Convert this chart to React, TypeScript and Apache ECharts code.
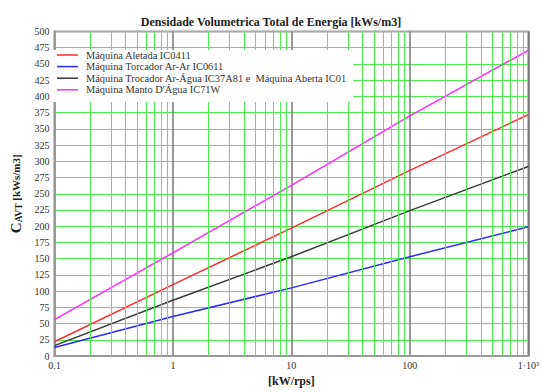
import React, { useEffect, useRef } from "react";
import * as echarts from "echarts";

const xValues = [0.1, 1, 10, 100, 1000];
const xTickLabels = ["0.1", "1", "10", "100", "1·10³"];
const minorX = [
  0.2, 0.3, 0.4, 0.5, 0.6, 0.7, 0.8, 0.9,
  2, 3, 4, 5, 6, 7, 8, 9,
  20, 30, 40, 50, 60, 70, 80, 90,
  200, 300, 400, 500, 600, 700, 800, 900,
];
const seriesNames = [
  "Máquina Aletada IC0411",
  "Máquina Torcador Ar-Ar IC0611",
  "Máquina Trocador Ar-Água IC37A81 e  Máquina Aberta IC01",
  "Máquina Manto D'Água IC71W",
];
const aletada = [22, 110, 197, 286, 372];
const arAr = [13, 61, 105, 153, 199];
const arAgua = [16, 86, 153, 224, 292];
const manto = [56, 159, 263, 370, 471];
const colors = ["#ff2a2a", "#2a2aff", "#3a3a3a", "#ff2aff"];

const serif = "'Liberation Serif', 'DejaVu Serif', serif";
const GREEN = "#4ded4d";

export default function App() {
  const ref = useRef<HTMLDivElement>(null);
  useEffect(() => {
    if (!ref.current) return;
    const chart = echarts.init(ref.current, undefined, { renderer: "svg" });
    const values = [aletada, arAr, arAgua, manto];
    chart.setOption({
      animation: false,
      backgroundColor: "#ffffff",
      title: {
        text: "Densidade Volumetrica Total de Energia [kWs/m3]",
        left: "center",
        top: 11,
        textStyle: { fontFamily: serif, fontWeight: "bold", fontSize: 12, color: "#222" },
      },
      graphic: [
        {
          type: "rect",
          shape: { x: 53, y: 50, width: 300, height: 52 },
          style: { fill: "#ffffff" },
          z: 50,
          silent: true,
        },
      ],
      legend: {
        data: seriesNames,
        orient: "vertical",
        left: 53,
        top: 50,
        z: 60,
        padding: [0, 8, 4, 4],
        itemWidth: 21,
        itemHeight: 12,
        itemGap: 1.6,
        icon: "path://M0,0L21,0L21,1.5L0,1.5Z",
        textStyle: { fontFamily: serif, fontSize: 10.4, color: "#333", padding: [0, 0, 0, 3] },
      },
      grid: {
        left: 48,
        top: 31.5,
        width: 493,
        height: 332,
        show: true,
        borderColor: "#999",
        borderWidth: 2,
        containLabel: false,
      },
      xAxis: {
        type: "log",
        logBase: 10,
        min: 0.1,
        max: 1000,
        name: "[kW/rps]",
        nameLocation: "middle",
        nameGap: 19,
        nameTextStyle: { fontFamily: serif, fontWeight: "bold", fontSize: 12, color: "#222" },
        axisLine: { show: true, lineStyle: { color: "#999", width: 2 } },
        axisTick: { show: false },
        axisLabel: {
          fontFamily: serif,
          fontSize: 10,
          color: "#333",
          margin: 4,
          showMinLabel: true,
          showMaxLabel: true,
          alignMaxLabel: "center",
          formatter: (_v: number, i: number) => xTickLabels[i] ?? "",
        },
        splitLine: { show: true, lineStyle: { color: "#777", width: 1.5 } },
      },
      yAxis: {
        type: "value",
        min: 0,
        max: 500,
        interval: 25,
        name: "{c|C}{s|AVT}{n| [kWs/m3]}",
        nameLocation: "middle",
        nameRotate: 90,
        nameGap: 26,
        nameTextStyle: {
          rich: {
            c: { fontFamily: serif, fontSize: 15, fontWeight: "bold", color: "#222" },
            s: { fontFamily: serif, fontSize: 9.5, fontWeight: "bold", color: "#222", padding: [6, 0, 0, 0] },
            n: { fontFamily: serif, fontSize: 11, fontWeight: "bold", color: "#222" },
          },
        },
        axisLine: { show: true, lineStyle: { color: "#999", width: 2 } },
        axisTick: { show: false },
        axisLabel: { fontFamily: serif, fontSize: 10, color: "#333", margin: 5 },
        splitLine: { show: true, lineStyle: { color: GREEN, width: 1 } },
      },
      series: [
        {
          name: "minor-grid",
          type: "line",
          data: [],
          silent: true,
          markLine: {
            silent: true,
            symbol: "none",
            label: { show: false },
            lineStyle: { color: GREEN, width: 1, type: "solid" },
            data: minorX.map((v) => ({ xAxis: v })),
          },
          z: 1,
        },
        ...seriesNames.map((name, k) => ({
          name,
          type: "line",
          symbol: "none",
          showSymbol: false,
          data: xValues.map((x, i) => [x, values[k][i]]),
          lineStyle: { color: colors[k], width: 1.5 },
          itemStyle: { color: colors[k] },
          z: 3,
        })),
      ],
    });
    return () => chart.dispose();
  }, []);
  return (
    <div
      ref={ref}
      style={{ position: "absolute", left: 0, top: 0, width: 542, height: 392 }}
    />
  );
}
